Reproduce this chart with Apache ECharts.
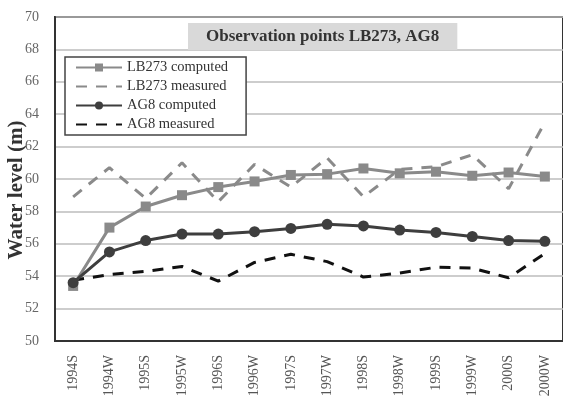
<!DOCTYPE html>
<html><head><meta charset="utf-8">
<script src="https://cdn.jsdelivr.net/npm/echarts@6/dist/echarts.min.js"></script>
<style>html,body{margin:0;padding:0;background:#fff}#c{width:563px;height:400px}</style>
</head><body><div id="c"></div>
<script>
const categories = ['1994S','1994W','1995S','1995W','1996S','1996W','1997S','1997W','1998S','1998W','1999S','1999W','2000S','2000W'];
const lb273Computed = [53.4, 57.0, 58.3, 59.0, 59.5, 59.85, 60.25, 60.3, 60.65, 60.35, 60.45, 60.2, 60.4, 60.15];
const lb273Measured = [58.9, 60.7, 58.8, 61.0, 58.6, 60.9, 59.5, 61.3, 58.9, 60.6, 60.75, 61.5, 59.4, 63.5];
const ag8Computed = [53.6, 55.5, 56.2, 56.6, 56.6, 56.75, 56.95, 57.2, 57.1, 56.85, 56.7, 56.45, 56.2, 56.15];
const ag8Measured = [53.75, 54.1, 54.3, 54.6, 53.7, 54.85, 55.35, 54.9, 53.95, 54.2, 54.55, 54.5, 53.9, 55.4];
const yTicks = {min: 50, max: 70, interval: 2};
const serif = '"Liberation Serif", "DejaVu Serif", serif';

const chart = echarts.init(document.getElementById('c'), null, {renderer: 'canvas'});
chart.setOption({
  animation: false,
  backgroundColor: '#fff',
  title: {
    text: 'Observation points LB273, AG8',
    left: 188, top: 23,
    backgroundColor: '#d9d9d9',
    padding: [5, 18, 5, 18],
    textStyle: {fontFamily: serif, fontSize: 17, lineHeight: 17, fontWeight: 'bold', color: '#333'}
  },
  legend: {
    orient: 'vertical',
    left: 65, top: 57,
    backgroundColor: '#fff',
    borderColor: '#444', borderWidth: 1.5,
    padding: [3, 18, 3, 10],
    itemWidth: 46, itemHeight: 10, itemGap: 4,
    textStyle: {fontFamily: serif, fontSize: 14.5, color: '#333'},
    data: [
      {name: 'LB273 computed'},
      {name: 'LB273 measured', itemStyle: {opacity: 0}},
      {name: 'AG8 computed'},
      {name: 'AG8 measured', itemStyle: {opacity: 0}}
    ]
  },
  graphic: [{
    type: 'text', x: 17, y: 190, rotation: Math.PI / 2,
    style: {text: 'Water level (m)', textAlign: 'center', textVerticalAlign: 'middle',
            font: 'bold 21px "Liberation Serif", serif', fill: '#333'}
  }],
  grid: {left: 55, top: 17, width: 510, height: 324, show: true, borderColor: '#333', borderWidth: 2, backgroundColor: 'transparent'},
  xAxis: {
    type: 'category', data: categories, boundaryGap: true,
    axisLine: {lineStyle: {color: '#333', width: 2}},
    axisTick: {show: false},
    axisLabel: {rotate: 90, color: '#555', fontFamily: serif, fontSize: 14, margin: 14}
  },
  yAxis: {
    type: 'value', min: yTicks.min, max: yTicks.max, interval: yTicks.interval,
    axisLine: {show: true, lineStyle: {color: '#333', width: 2}},
    axisTick: {show: false},
    axisLabel: {color: '#666', fontFamily: serif, fontSize: 14, margin: 16},
    splitLine: {lineStyle: {color: '#bdbdbd', width: 1.5}}
  },
  series: [
    {name: 'LB273 computed', type: 'line', data: lb273Computed, symbol: 'rect', symbolSize: 10,
     itemStyle: {color: '#8a8a8a'}, lineStyle: {color: '#8a8a8a', width: 3}, z: 3},
    {name: 'LB273 measured', type: 'line', data: lb273Measured, symbol: 'none', showSymbol: false,
     itemStyle: {color: '#8a8a8a'}, lineStyle: {color: '#8a8a8a', width: 3, type: [11, 9]}, z: 2},
    {name: 'AG8 computed', type: 'line', data: ag8Computed, symbol: 'circle', symbolSize: 11,
     itemStyle: {color: '#3e3e3e'}, lineStyle: {color: '#3e3e3e', width: 3}, z: 4},
    {name: 'AG8 measured', type: 'line', data: ag8Measured, symbol: 'none', showSymbol: false,
     itemStyle: {color: '#111'}, lineStyle: {color: '#111', width: 3, type: [11, 9]}, z: 2}
  ]
});
</script></body></html>
